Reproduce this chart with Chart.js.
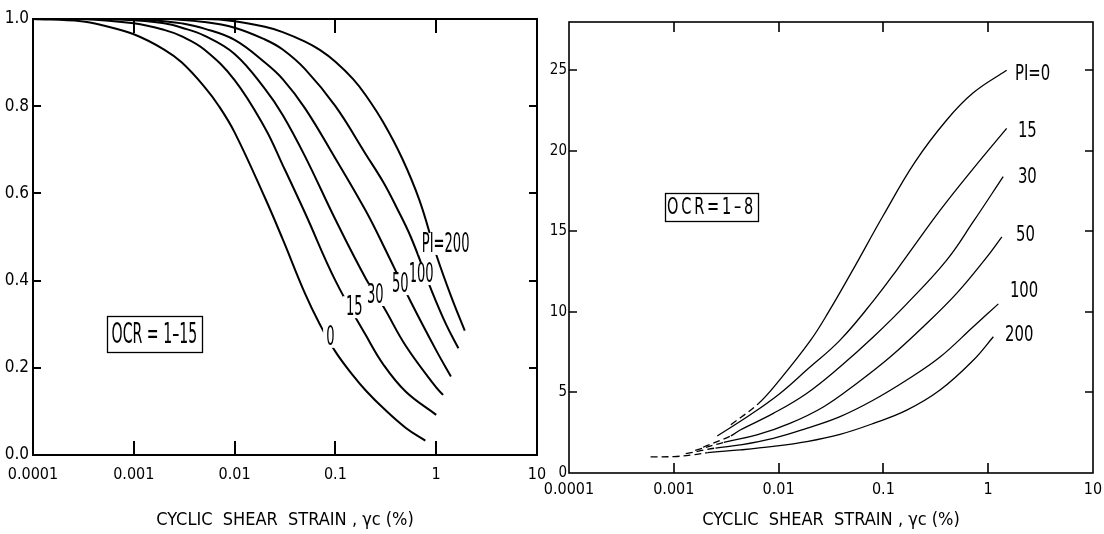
<!DOCTYPE html>
<html>
<head>
<meta charset="utf-8">
<title>G/Gmax y amortiguamiento vs deformación</title>
<script src="https://cdn.jsdelivr.net/npm/chart.js@4.4.1/dist/chart.umd.min.js"></script>
<style>
  html, body { margin: 0; padding: 0; background: #fff; }
  #lienzo { position: relative; width: 1104px; height: 534px; }
  canvas { position: absolute; left: 0; top: 0; }
</style>
</head>
<body>
<div id="lienzo">
  <canvas id="graficaModulo" width="1104" height="534"></canvas>
  <canvas id="graficaAmortiguamiento" width="1104" height="534"></canvas>
</div>
<script>
// ticks
const strainTicks = [0.0001, 0.001, 0.01, 0.1, 1, 10];
const strainTickLabels = ['0.0001', '0.001', '0.01', '0.1', '1', '10'];
const modTicks = [0, 0.2, 0.4, 0.6, 0.8, 1.0];
const modTickLabels = ['0.0', '0.2', '0.4', '0.6', '0.8', '1.0'];
const dampTicks = [0, 5, 10, 15, 20, 25];
const dampTickLabels = ['0', '5', '10', '15', '20', '25'];

// G/Gmax, OCR = 1-15 (strain in %)
const modStrainPI0 = [0.0001, 0.0003, 0.0005, 0.001, 0.002, 0.003, 0.005, 0.007, 0.01, 0.02, 0.03, 0.05, 0.07, 0.1, 0.15, 0.2, 0.3, 0.5, 0.78];
const modRatioPI0 = [1, 0.995, 0.985, 0.965, 0.93, 0.9, 0.845, 0.8, 0.74, 0.59, 0.495, 0.37, 0.3, 0.237, 0.182, 0.148, 0.107, 0.062, 0.033];
const modStrainPI15 = [0.0001, 0.0003, 0.001, 0.002, 0.003, 0.005, 0.01, 0.02, 0.03, 0.05, 0.1, 0.2, 0.3, 0.5, 1.0];
const modRatioPI15 = [1, 1, 0.99, 0.975, 0.96, 0.93, 0.86, 0.75, 0.665, 0.555, 0.40, 0.275, 0.207, 0.145, 0.092];
const modStrainPI30 = [0.0001, 0.0005, 0.001, 0.002, 0.003, 0.005, 0.01, 0.02, 0.03, 0.05, 0.1, 0.2, 0.3, 0.5, 1.0, 1.17];
const modRatioPI30 = [1, 1, 0.997, 0.99, 0.98, 0.962, 0.92, 0.84, 0.78, 0.685, 0.54, 0.405, 0.34, 0.25, 0.155, 0.138];
const modStrainPI50 = [0.0001, 0.001, 0.002, 0.003, 0.005, 0.01, 0.02, 0.03, 0.05, 0.1, 0.2, 0.3, 0.55, 1.0, 1.4];
const modRatioPI50 = [1, 1, 0.995, 0.99, 0.978, 0.952, 0.9, 0.862, 0.795, 0.68, 0.56, 0.48, 0.355, 0.24, 0.18];
const modStrainPI100 = [0.0001, 0.002, 0.005, 0.01, 0.02, 0.03, 0.05, 0.1, 0.2, 0.3, 0.4, 0.56, 0.9, 1.25, 1.66];
const modRatioPI100 = [1, 1, 0.993, 0.98, 0.953, 0.93, 0.885, 0.80, 0.69, 0.625, 0.57, 0.5, 0.377, 0.3, 0.245];
const modStrainPI200 = [0.0001, 0.005, 0.01, 0.02, 0.03, 0.05, 0.07, 0.1, 0.15, 0.2, 0.3, 0.46, 0.68, 1.0, 1.4, 1.92];
const modRatioPI200 = [1, 1, 0.995, 0.982, 0.97, 0.948, 0.929, 0.902, 0.862, 0.825, 0.762, 0.68, 0.585, 0.46, 0.365, 0.285];

// damping ratio (%), OCR = 1-8 (strain in %)
const dampStrainPI0 = [0.0035, 0.0064, 0.01, 0.02, 0.03, 0.05, 0.1, 0.2, 0.4, 0.72, 1.5];
const dampRatioPI0 = [3.0, 4.3, 5.7, 8.2, 10.0, 12.5, 16.0, 19.3, 21.9, 23.6, 25.0];
const dampStrainPI15 = [0.0026, 0.0055, 0.0103, 0.0185, 0.0386, 0.0805, 0.134, 0.347, 0.72, 1.5];
const dampRatioPI15 = [2.3, 3.66, 4.94, 6.39, 8.25, 10.7, 12.6, 16.3, 18.9, 21.4];
const dampStrainPI30 = [0.0019, 0.0035, 0.0043, 0.0089, 0.0185, 0.0386, 0.0805, 0.167, 0.40, 0.72, 1.39];
const dampRatioPI30 = [1.6, 2.3, 2.67, 3.7, 4.94, 6.6, 8.46, 10.5, 13.2, 15.6, 18.4];
const dampStrainPI50 = [0.0016, 0.003, 0.0062, 0.0128, 0.0267, 0.0556, 0.116, 0.24, 0.5, 0.97, 1.35];
const dampRatioPI50 = [1.4, 1.9, 2.36, 3.08, 4.1, 5.56, 7.2, 9.08, 11.15, 13.4, 14.66];
const dampStrainPI100 = [0.0013, 0.0025, 0.0043, 0.0089, 0.0185, 0.0386, 0.0805, 0.167, 0.347, 0.72, 1.25];
const dampRatioPI100 = [1.2, 1.55, 1.74, 2.15, 2.77, 3.5, 4.53, 5.77, 7.2, 9.08, 10.5];
const dampStrainPI200 = [0.0006, 0.001, 0.0015, 0.0021, 0.0043, 0.0089, 0.0185, 0.0386, 0.0805, 0.167, 0.347, 0.72, 1.12];
const dampRatioPI200 = [1.0, 1.02, 1.12, 1.26, 1.43, 1.65, 1.95, 2.4, 3.08, 3.9, 5.15, 7.0, 8.46];
// strain where each damping curve turns from dashed to solid
const dampSolidFrom = [0.0064, 0.0045, 0.0035, 0.003, 0.0025, 0.0021];

const fuente = '"DejaVu Sans Condensed", "Liberation Sans Narrow", "Liberation Sans", sans-serif';
const tituloX = 'CYCLIC  SHEAR  STRAIN , γc (%)';

function puntos(xs, ys) {
    return xs.map((x, i) => ({ x: x, y: ys[i] }));
}

// text squeezed horizontally, like the narrow lettering of the original
function textoEstrecho(ctx, texto, x, y, escala) {
    ctx.save();
    ctx.translate(x, y);
    ctx.scale(escala, 1);
    ctx.fillText(texto, 0, 0);
    ctx.restore();
}

// frame, inward ticks, OCR box and curve labels
function capaDibujo(cfg) {
    return {
        id: 'capaDibujo',
        afterDatasetsDraw(chart) {
            const ctx = chart.ctx;
            const a = chart.chartArea;
            const x = chart.scales.x;
            const y = chart.scales.y;
            ctx.save();
            ctx.strokeStyle = '#000';
            ctx.lineWidth = cfg.marco;
            ctx.strokeRect(a.left, a.top, a.right - a.left, a.bottom - a.top);

            ctx.beginPath();
            x.ticks.forEach(t => {
                if (t.value <= x.min || t.value >= x.max) return;
                const px = Math.round(x.getPixelForValue(t.value));
                ctx.moveTo(px, a.bottom); ctx.lineTo(px, a.bottom - cfg.tickX);
                ctx.moveTo(px, a.top); ctx.lineTo(px, a.top + cfg.tickX);
            });
            y.ticks.forEach(t => {
                if (t.value <= y.min || t.value >= y.max) return;
                const py = Math.round(y.getPixelForValue(t.value));
                ctx.moveTo(a.left, py); ctx.lineTo(a.left + cfg.tickY, py);
                ctx.moveTo(a.right, py); ctx.lineTo(a.right - cfg.tickY, py);
            });
            ctx.stroke();

            // OCR box
            const c = cfg.caja;
            const cx = x.getPixelForValue(c.x);
            const cy = y.getPixelForValue(c.y);
            ctx.lineWidth = 1.3;
            ctx.strokeRect(Math.round(cx - c.w / 2) + 0.5, Math.round(cy - c.h / 2) + 0.5, c.w, c.h);
            ctx.fillStyle = '#000';
            ctx.font = c.font;
            ctx.textAlign = 'center';
            ctx.textBaseline = 'middle';
            if ('letterSpacing' in ctx) ctx.letterSpacing = c.espacio;
            textoEstrecho(ctx, c.texto, cx, cy + 1, c.escala);
            if ('letterSpacing' in ctx) ctx.letterSpacing = '0px';

            // curve labels (white under them breaks the line)
            ctx.font = cfg.fontEtiqueta;
            ctx.textAlign = cfg.alinear;
            cfg.etiquetas.forEach(e => {
                const px = x.getPixelForValue(e.x);
                const py = y.getPixelForValue(e.y);
                const w = ctx.measureText(e.texto).width * cfg.escala;
                const izq = cfg.alinear === 'center' ? px - w / 2 : px;
                ctx.fillStyle = '#fff';
                ctx.fillRect(izq - 3, py - cfg.altoEtiqueta / 2, w + 6, cfg.altoEtiqueta);
                ctx.fillStyle = '#000';
                textoEstrecho(ctx, e.texto, px, py + 1, cfg.escala);
            });
            ctx.restore();
        }
    };
}

function ejeX(alto, relleno, tamTicks, tamTitulo) {
    return {
        type: 'logarithmic',
        min: 0.0001,
        max: 10,
        afterBuildTicks: s => { s.ticks = strainTicks.map(v => ({ value: v })); },
        afterFit: s => { s.height = alto; s.paddingLeft = 0; s.paddingRight = 0; },
        ticks: {
            callback: (v, i) => strainTickLabels[i],
            autoSkip: false,
            maxRotation: 0,
            padding: relleno,
            color: '#000',
            font: { family: fuente, size: tamTicks }
        },
        grid: { display: false, drawTicks: false },
        border: { display: false },
        title: {
            display: true,
            text: tituloX,
            color: '#000',
            font: { family: fuente, size: tamTitulo },
            padding: { top: 0, bottom: 3 }
        }
    };
}

function ejeY(min, max, valores, etiquetas, ancho, relleno, tam) {
    return {
        type: 'linear',
        min: min,
        max: max,
        afterBuildTicks: s => { s.ticks = valores.map(v => ({ value: v })); },
        afterFit: s => { s.width = ancho; s.paddingTop = 0; s.paddingBottom = 0; },
        ticks: {
            callback: (v, i) => etiquetas[i],
            padding: relleno,
            color: '#000',
            font: { family: fuente, size: tam }
        },
        grid: { display: false, drawTicks: false },
        border: { display: false }
    };
}

// ---- left: G/Gmax ----
const curvasModulo = [
    [modStrainPI0, modRatioPI0],
    [modStrainPI15, modRatioPI15],
    [modStrainPI30, modRatioPI30],
    [modStrainPI50, modRatioPI50],
    [modStrainPI100, modRatioPI100],
    [modStrainPI200, modRatioPI200]
];

new Chart(document.getElementById('graficaModulo').getContext('2d'), {
    type: 'line',
    data: {
        datasets: curvasModulo.map(c => ({
            data: puntos(c[0], c[1]),
            borderColor: '#000',
            borderWidth: 2,
            pointRadius: 0,
            tension: 0.4,
            fill: false
        }))
    },
    options: {
        responsive: false,
        animation: false,
        devicePixelRatio: 1,
        layout: { padding: { left: 0, top: 19, right: 567, bottom: 0 } },
        plugins: { legend: { display: false }, tooltip: { enabled: false } },
        scales: {
            x: ejeX(79, 10, 16, 18),
            y: ejeY(0, 1, modTicks, modTickLabels, 33, 4, 17)
        }
    },
    plugins: [capaDibujo({
        marco: 2,
        tickX: 14,
        tickY: 8,
        caja: { x: 0.0016, y: 0.277, w: 95, h: 36, texto: 'OCR = 1–15', font: '28px ' + fuente, espacio: '0px', escala: 0.56 },
        fontEtiqueta: '26px ' + fuente,
        escala: 0.56,
        alinear: 'center',
        altoEtiqueta: 22,
        etiquetas: [
            { texto: 'PI=200', x: 1.24, y: 0.484 },
            { texto: '100', x: 0.71, y: 0.415 },
            { texto: '50', x: 0.44, y: 0.392 },
            { texto: '30', x: 0.249, y: 0.367 },
            { texto: '15', x: 0.154, y: 0.339 },
            { texto: '0', x: 0.089, y: 0.271 }
        ]
    })]
});

// ---- right: damping ratio ----
const curvasAmort = [
    [dampStrainPI0, dampRatioPI0],
    [dampStrainPI15, dampRatioPI15],
    [dampStrainPI30, dampRatioPI30],
    [dampStrainPI50, dampRatioPI50],
    [dampStrainPI100, dampRatioPI100],
    [dampStrainPI200, dampRatioPI200]
];

new Chart(document.getElementById('graficaAmortiguamiento').getContext('2d'), {
    type: 'line',
    data: {
        datasets: curvasAmort.map((c, k) => ({
            data: puntos(c[0], c[1]),
            borderColor: '#000',
            borderWidth: 1.3,
            pointRadius: 0,
            tension: 0.4,
            fill: false,
            segment: {
                borderDash: ctx => c[0][ctx.p1DataIndex] <= dampSolidFrom[k] ? [7, 4] : undefined
            }
        }))
    },
    options: {
        responsive: false,
        animation: false,
        devicePixelRatio: 1,
        layout: { padding: { left: 548, top: 22, right: 11, bottom: 0 } },
        plugins: { legend: { display: false }, tooltip: { enabled: false } },
        scales: {
            x: ejeX(61, 7, 16, 18),
            y: ejeY(0, 28, dampTicks, dampTickLabels, 21, 2, 15)
        }
    },
    plugins: [capaDibujo({
        marco: 1.6,
        tickX: 10,
        tickY: 8,
        caja: { x: 0.00229, y: 16.5, w: 93, h: 28, texto: 'OCR=1–8', font: '23px ' + fuente, espacio: '4px', escala: 0.7 },
        fontEtiqueta: '22px ' + fuente,
        escala: 0.75,
        alinear: 'left',
        altoEtiqueta: 20,
        etiquetas: [
            { texto: 'PI=0', x: 1.8, y: 24.8 },
            { texto: '15', x: 1.92, y: 21.3 },
            { texto: '30', x: 1.92, y: 18.4 },
            { texto: '50', x: 1.84, y: 14.8 },
            { texto: '100', x: 1.61, y: 11.35 },
            { texto: '200', x: 1.45, y: 8.62 }
        ]
    })]
});
</script>
</body>
</html>
